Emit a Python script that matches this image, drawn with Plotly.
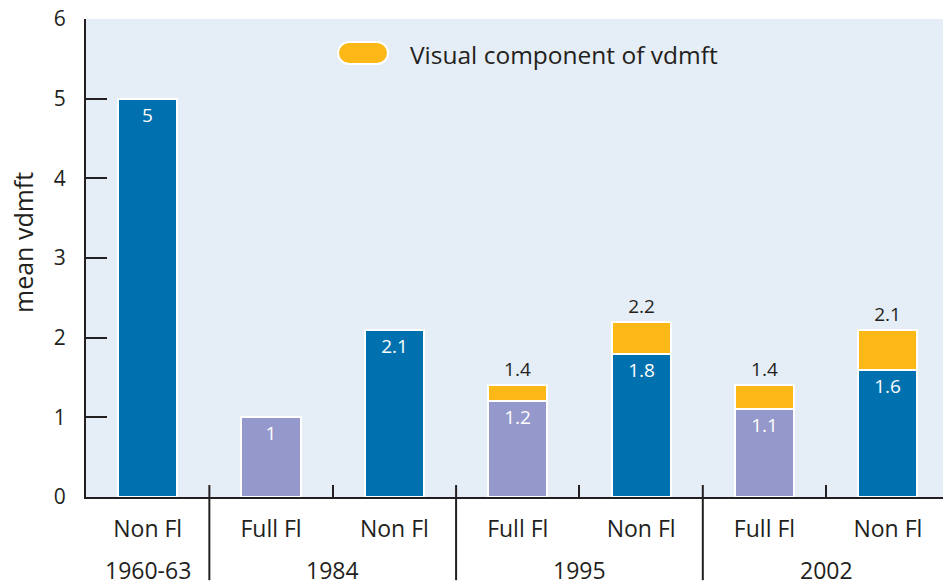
import plotly.graph_objects as go

# Data
positions = [0, 1, 2, 3, 4, 5, 6]
bar_labels = ["Non Fl", "Full Fl", "Non Fl", "Full Fl", "Non Fl", "Full Fl", "Non Fl"]
groups = ["1960-63", "1984", "1995", "2002"]
group_centers = [0, 1.5, 3.5, 5.5]
fluoride = ["Non", "Full", "Non", "Full", "Non", "Full", "Non"]
base_values = [5, 1, 2.1, 1.2, 1.8, 1.1, 1.6]
visual_positions = [3, 4, 5, 6]
visual_values = [0.2, 0.4, 0.3, 0.5]
totals = [1.4, 2.2, 1.4, 2.1]
legend_label = "Visual component of vdmft"
y_title = "mean vdmft"

DARK = "#231f20"
BLUE = "#0071ae"
LAV = "#9598cb"
ORANGE = "#fbb817"
BG = "#e5edf6"
FONT = "Open Sans"

colors = [BLUE if f == "Non" else LAV for f in fluoride]

XMAX = 6.447

fig = go.Figure()
fig.add_trace(go.Bar(
    x=positions, y=base_values, width=0.48,
    marker=dict(color=colors, line=dict(color="white", width=2)),
    text=[f"{v:g}" for v in base_values], textposition="inside",
    insidetextanchor="end",
    textfont=dict(color="white", size=19, family=FONT),
    showlegend=False, hoverinfo="skip",
))
fig.add_trace(go.Bar(
    x=visual_positions, y=visual_values, width=0.48,
    marker=dict(color=ORANGE, line=dict(color="white", width=2)),
    text=[f"{v:g}" for v in totals], textposition="outside",
    textfont=dict(color=DARK, size=19, family=FONT),
    cliponaxis=False, name=legend_label, showlegend=False, hoverinfo="skip",
))

shapes = []
# group separators
for xs in [0.5, 2.5, 4.5]:
    shapes.append(dict(type="line", xref="x", yref="paper", x0=xs, x1=xs,
                       y0=0.025, y1=-0.174, line=dict(color=DARK, width=2)))
# legend pill
shapes.append(dict(
    type="path", xref="paper", yref="paper", xsizemode="pixel", ysizemode="pixel",
    xanchor=(363 - 86) / 857, yanchor=(497 - 53) / 478,
    path="M -14,-11 L 14,-11 C 20,-11 25,-6 25,0 C 25,6 20,11 14,11 L -14,11 "
         "C -20,11 -25,6 -25,0 C -25,-6 -20,-11 -14,-11 Z",
    fillcolor=ORANGE, line=dict(color="white", width=2), layer="above",
))

annotations = []
for g, c in zip(groups, group_centers):
    annotations.append(dict(x=c, y=-0.153, xref="x", yref="paper", text=g,
                            showarrow=False, yanchor="middle",
                            font=dict(size=23, color=DARK, family=FONT)))
annotations.append(dict(x=(408 - 86) / 857, y=(497 - 54) / 478, xref="paper", yref="paper",
                        text=legend_label, showarrow=False, xanchor="left", yanchor="middle",
                        font=dict(size=24.5, color=DARK, family=FONT)))
annotations.append(dict(x=(23 - 86) / 857, y=(497 - 243) / 478, xref="paper", yref="paper",
                        text=y_title, showarrow=False, textangle=-90,
                        xanchor="center", yanchor="middle",
                        font=dict(size=25, color=DARK, family=FONT)))

fig.update_layout(
    width=943, height=583,
    margin=dict(l=86, r=0, t=19, b=86),
    paper_bgcolor="white", plot_bgcolor=BG,
    barmode="stack", bargap=0,
    font=dict(family=FONT, color=DARK),
    shapes=shapes, annotations=annotations,
    uniformtext=dict(minsize=19, mode="show"),
)
fig.update_xaxes(
    range=[-0.5, XMAX], tickvals=positions, ticktext=bar_labels,
    ticks="", showline=True, linecolor=DARK, linewidth=2,
    tickfont=dict(size=23, color=DARK, family=FONT), ticklabelstandoff=10,
    minor=dict(tickvals=[1.5, 3.5, 5.5], ticks="inside", ticklen=12,
               tickwidth=2, tickcolor=DARK),
    showgrid=False, zeroline=False, layer="below traces", fixedrange=True,
    automargin=False,
)
fig.update_yaxes(
    range=[0, 6], tickvals=[0, 1, 2, 3, 4, 5, 6],
    ticks="inside", ticklen=21, tickwidth=2, tickcolor=DARK,
    showline=True, linecolor=DARK, linewidth=2,
    tickfont=dict(size=21, color=DARK, family=FONT), ticklabelstandoff=14,
    showgrid=False, zeroline=False, fixedrange=True, automargin=False,
)

fig.write_html("out.html", config={"displayModeBar": False},
               post_script="document.body.style.margin='0';document.body.style.overflow='hidden';")
